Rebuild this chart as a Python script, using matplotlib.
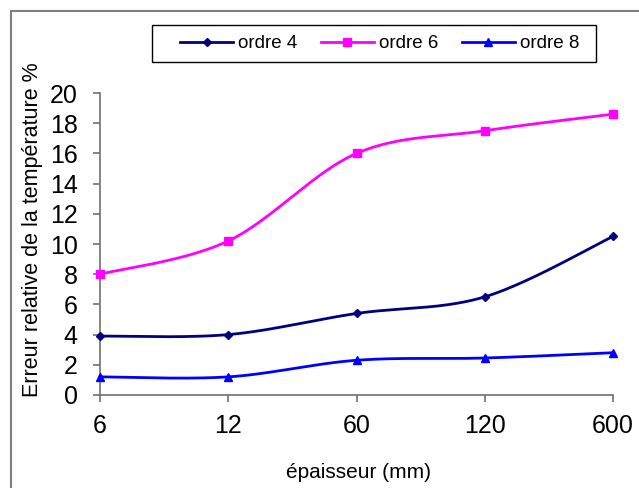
import numpy as np
import matplotlib.pyplot as plt
from matplotlib.lines import Line2D
from matplotlib.patches import Rectangle

plt.rcParams['font.family'] = ['Liberation Sans', 'DejaVu Sans']

# épaisseur (mm) et erreur relative (%) pour chaque ordre
epaisseurs = ['6', '12', '60', '120', '600']
ordre4 = [3.9, 4.0, 5.4, 6.5, 10.5]
ordre6 = [8.0, 10.2, 16.0, 17.5, 18.6]
ordre8 = [1.2, 1.2, 2.3, 2.45, 2.8]
noms = ['ordre 4', 'ordre 6', 'ordre 8']


def lisse(x, y, n=40):
    # courbe lissée type Catmull-Rom (Bezier cubique entre chaque point)
    p = np.column_stack([x, y]).astype(float)
    pts = np.vstack([p[0], p, p[-1]])
    t = np.linspace(0, 1, n)[:, None]
    out = []
    for i in range(1, len(pts) - 2):
        p0, p1, p2, p3 = pts[i - 1], pts[i], pts[i + 1], pts[i + 2]
        c1 = p1 + (p2 - p0) / 6
        c2 = p2 - (p3 - p1) / 6
        seg = ((1 - t) ** 3) * p1 + 3 * ((1 - t) ** 2) * t * c1 \
            + 3 * (1 - t) * t ** 2 * c2 + t ** 3 * p2
        out.append(seg if i == 1 else seg[1:])
    seg = np.vstack(out)
    return seg[:, 0], seg[:, 1]


fig = plt.figure(figsize=(6.39, 4.88), dpi=100)
ax = fig.add_axes([100 / 639, 1 - 395 / 488, 513 / 639, 302 / 488])

x = np.arange(len(epaisseurs))
series = [ordre4, ordre6, ordre8]
couleurs = ['#000080', '#FF00FF', '#0000FF']
marqueurs = ['D', 's', '^']
tailles = [4.2, 5.2, 5.5]

handles = []
for y, c, m, s, nom in zip(series, couleurs, marqueurs, tailles, noms):
    xs, ys = lisse(x, y)
    ax.plot(xs, ys, color=c, lw=2, clip_on=False, zorder=3)
    ax.plot(x, y, ls='none', marker=m, ms=s, color=c, clip_on=False, zorder=4)
    handles.append(Line2D([], [], color=c, lw=2, marker=m, ms=s, label=nom))

ax.set_xlim(0, 4)
ax.set_ylim(0, 20)
ax.set_xticks(x)
ax.set_xticklabels(epaisseurs)
ax.set_yticks(np.arange(0, 21, 2))

for s in ['top', 'right']:
    ax.spines[s].set_visible(False)
for s in ['left', 'bottom']:
    ax.spines[s].set_color('#707070')
    ax.spines[s].set_linewidth(1.2)

ax.tick_params(axis='both', direction='out', length=5, width=1.2,
               color='#707070', labelsize=18)
ax.tick_params(axis='x', pad=9)
ax.tick_params(axis='y', pad=11)

ax.set_ylabel('Erreur relative de la température %', fontsize=15.5, va='center')
ax.yaxis.set_label_coords((33 - 100) / 513, (395 - 230) / 302)
ax.set_xlabel('épaisseur (mm)', fontsize=15, va='center')
ax.xaxis.set_label_coords((359 - 100) / 513, (395 - 472) / 302)

# légende dans un cadre noir au-dessus du graphique
fig.legend(handles=handles, loc='center left', ncol=3, frameon=False,
           bbox_to_anchor=(171 / 639, 1 - 43.5 / 488), borderpad=0,
           fontsize=13.5, handlelength=2.8, handletextpad=0.3,
           columnspacing=1.25)
fig.patches.append(Rectangle((152 / 639, 1 - 62 / 488), 444 / 639, 37 / 488,
                             transform=fig.transFigure, fill=False,
                             edgecolor='black', lw=1))

# cadre gris du graphique
fig.patches.append(Rectangle((11 / 639, -0.1), 1.2, 1.1 - 11 / 488,
                             transform=fig.transFigure, fill=False,
                             edgecolor='#808080', lw=1.5))

fig.savefig('out.png', dpi=100)
